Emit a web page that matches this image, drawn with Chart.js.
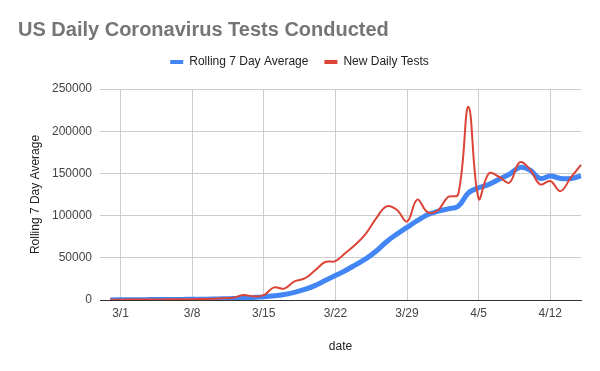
<!DOCTYPE html>
<html>
<head>
<meta charset="utf-8">
<script src="https://cdn.jsdelivr.net/npm/chart.js@4"></script>
<style>
  html, body { margin: 0; padding: 0; background: #fff; }
</style>
</head>
<body>
<canvas id="myChart" width="600" height="371"></canvas>
<script>
let dates = [
  '2/28', '2/29', '3/1', '3/2', '3/3', '3/4', '3/5', '3/6', '3/7', '3/8',
  '3/9', '3/10', '3/11', '3/12', '3/13', '3/14', '3/15', '3/16', '3/17', '3/18',
  '3/19', '3/20', '3/21', '3/22', '3/23', '3/24', '3/25', '3/26', '3/27', '3/28',
  '3/29', '3/30', '3/31', '4/1', '4/2', '4/3', '4/4', '4/5', '4/6', '4/7',
  '4/8', '4/9', '4/10', '4/11', '4/12', '4/13', '4/14', '4/15'
]

let tickDates = ['3/1', '3/8', '3/15', '3/22', '3/29', '4/5', '4/12']

let rollingAvg = [
  null, 100, 200, 300, 400, 450, 500, 600, 700, 800,
  900, 1100, 1400, 1800, 2500, 3000, 3700, 5000, 6500, 9000,
  12500, 17000, 23000, 29000, 35000, 42000, 49000, 58000, 69000, 78000,
  86000, 94000, 101000, 105000, 108000, 111000, 127000, 133000, 137000, 143000,
  149000, 157000, 154000, 144000, 147000, 144000, 144000, 147000
]

let dailyTests = [
  null, 300, 400, 500, 500, 600, 700, 800, 900, 1000,
  1200, 1500, 2200, 2600, 6000, 4300, 5800, 15000, 13500, 22000,
  25500, 35000, 45000, 46000, 56000, 66000, 79000, 97000, 111000, 107000,
  93000, 119000, 104000, 106000, 122000, 125000, 229000, 120000, 150000, 146000,
  139000, 163000, 155000, 137000, 141000, 129000, 145000, 160000
]

let yTicks = [0, 50000, 100000, 150000, 200000, 250000]

const FONT = '"Liberation Sans", Arial, sans-serif'

// leave a gap under the legend before the plot starts
const legendGap = {
    id: 'legendGap',
    beforeLayout(chart) {
        const lg = chart.legend;
        if (lg && !lg._gap) {
            const fit = lg.fit;
            lg.fit = function () {
                fit.call(this);
                this.height += 11;
            };
            lg._gap = true;
        }
    }
};

var ctx = document.getElementById('myChart').getContext('2d');
var chart = new Chart(ctx, {
    type: 'line',
    data: {
        labels: dates,
        datasets: [{
            label: 'Rolling 7 Day Average',
            data: rollingAvg,
            borderColor: '#4285f4',
            backgroundColor: '#4285f4',
            borderWidth: 5,
            pointRadius: 0,
            tension: 0.4,
            order: 1
        }, {
            label: 'New Daily Tests',
            data: dailyTests,
            borderColor: '#db4437',
            backgroundColor: '#db4437',
            borderWidth: 2,
            pointRadius: 0,
            tension: 0.4,
            order: 0
        }]
    },
    plugins: [legendGap],
    options: {
        responsive: false,
        animation: false,
        layout: { padding: { left: 18, right: 19, top: 0, bottom: 0 } },
        plugins: {
            tooltip: { enabled: false },
            title: {
                display: true,
                text: 'US Daily Coronavirus Tests Conducted',
                align: 'start',
                color: '#757575',
                font: { family: FONT, size: 20, weight: 'bold', lineHeight: 1 },
                padding: { top: 20, bottom: 0 }
            },
            legend: {
                labels: {
                    sort: (a, b) => a.datasetIndex - b.datasetIndex,
                    generateLabels: (c) => Chart.defaults.plugins.legend.labels.generateLabels(c)
                        .map(l => Object.assign(l, { lineWidth: 0 })),
                    boxWidth: 13,
                    boxHeight: 4,
                    padding: 16,
                    color: '#222',
                    font: { family: FONT, size: 12 }
                }
            }
        },
        scales: {
            x: {
                afterFit: (scale) => { scale.height = 71 },
                border: { color: '#333' },
                grid: {
                    drawTicks: false,
                    color: (c) => tickDates.includes(dates[c.index]) ? '#cccccc' : 'rgba(0,0,0,0)'
                },
                ticks: {
                    autoSkip: false,
                    maxRotation: 0,
                    padding: 6,
                    color: '#444',
                    font: { family: FONT, size: 12 },
                    callback: function (v, i) {
                        return tickDates.includes(dates[i]) ? dates[i] : ''
                    }
                },
                title: {
                    display: true,
                    text: 'date',
                    color: '#222',
                    font: { family: FONT, size: 12 },
                    padding: { top: 0, bottom: 17 }
                }
            },
            y: {
                min: 0,
                max: 250000,
                afterFit: (scale) => { scale.width = 82 },
                afterBuildTicks: (scale) => { scale.ticks = yTicks.map(v => ({ value: v })) },
                border: { display: false },
                grid: {
                    drawTicks: false,
                    color: (c) => c.tick && c.tick.value === 0 ? '#333' : '#cccccc'
                },
                ticks: {
                    padding: 8,
                    color: '#444',
                    font: { family: FONT, size: 12 },
                    callback: (v) => String(v)
                },
                title: {
                    display: true,
                    text: 'Rolling 7 Day Average',
                    color: '#222',
                    font: { family: FONT, size: 12 },
                    padding: { top: 10, bottom: 0 }
                }
            }
        }
    }
});
</script>
</body>
</html>
